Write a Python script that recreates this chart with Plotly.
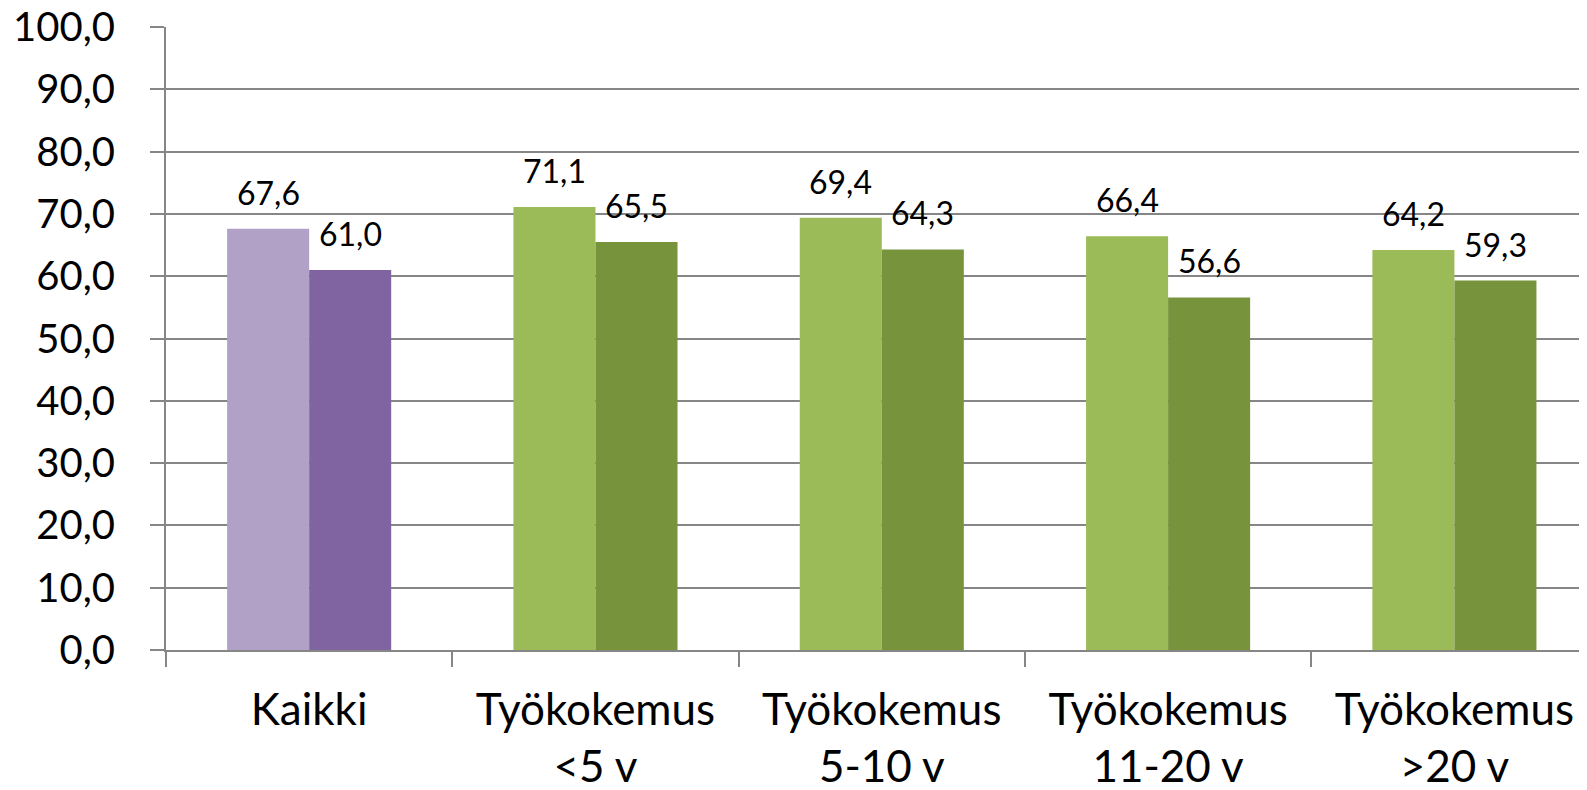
import plotly.graph_objects as go

categories = ["Kaikki", "Työkokemus<br><5 v", "Työkokemus<br>5-10 v",
              "Työkokemus<br>11-20 v", "Työkokemus<br>>20 v"]
values_light = [67.6, 71.1, 69.4, 66.4, 64.2]
values_dark = [61.0, 65.5, 64.3, 56.6, 59.3]
colors_light = ["#B2A1C7", "#9BBB59", "#9BBB59", "#9BBB59", "#9BBB59"]
colors_dark = ["#8064A2", "#77933C", "#77933C", "#77933C", "#77933C"]

FONT = "Lato, 'Noto Sans', sans-serif"

fig = go.Figure()
fig.add_trace(go.Bar(x=categories, y=values_light, marker=dict(color=colors_light, line=dict(width=0)),
                     name="a"))
fig.add_trace(go.Bar(x=categories, y=values_dark, marker=dict(color=colors_dark, line=dict(width=0)),
                     name="b"))

# data labels above bars
for i, c in enumerate(categories):
    for v, dx in ((values_light[i], -41), (values_dark[i], 41)):
        fig.add_annotation(x=c, y=v, xshift=dx, yshift=15, yanchor="bottom",
                           text=f"{v:.1f}".replace(".", ","), showarrow=False,
                           font=dict(size=32, color="black", family=FONT))

# the page body adds an 8px offset, margins compensate for it
fig.update_layout(
    width=1587, height=790,
    margin=dict(l=158, r=0, t=19, b=148),
    paper_bgcolor="white", plot_bgcolor="white",
    barmode="group", bargap=0.427, bargroupgap=0,
    showlegend=False,
    separators=", ",
    font=dict(family=FONT, color="black"),
)
fig.update_xaxes(
    range=[-0.5, 4.491], automargin=False,
    showline=True, linecolor="#868686", linewidth=2,
    ticks="outside", tickson="boundaries", ticklen=15, tickcolor="#868686", tickwidth=2,
    tickfont=dict(size=44, family=FONT, color="black"),
    ticklabelstandoff=20, ticklabeloverflow="allow",
    showgrid=False,
)
fig.update_yaxes(
    range=[0, 100], dtick=10, tickformat=".1f", automargin=False,
    showline=True, linecolor="#868686", linewidth=2,
    ticks="outside", ticklen=14, tickcolor="#868686", tickwidth=2,
    showgrid=True, gridcolor="#868686", gridwidth=2,
    tickfont=dict(size=40, family=FONT, color="black"),
    ticklabelstandoff=27, ticklabeloverflow="allow",
    zeroline=False,
)

fig.write_html("out.html")
